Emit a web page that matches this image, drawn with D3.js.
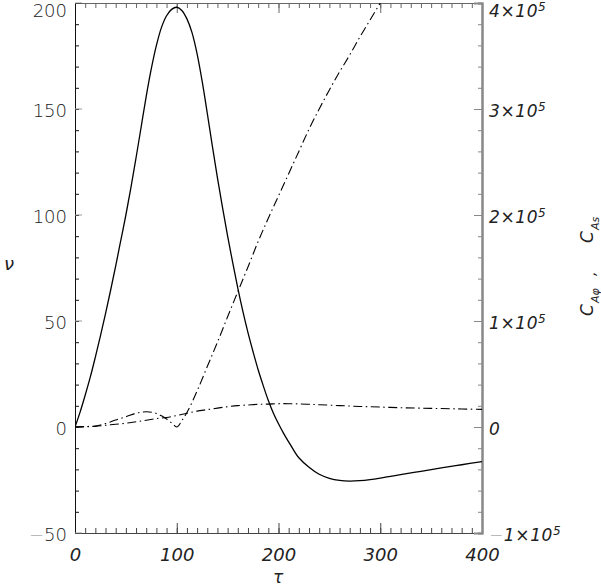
<!DOCTYPE html>
<html><head><meta charset="utf-8">
<script src="https://cdn.jsdelivr.net/npm/d3@7"></script>
<style>
body{margin:0;background:#fff;}
text{font-family:"DejaVu Sans",sans-serif;}
</style></head>
<body><svg id="c" width="601" height="588"></svg>
<script>
// tau values and series (v in left-axis units; C values in right-axis units)
const tauV = [0,5,10,15,20,25,30,35,40,45,50,55,60,65,70,75,80,85,90,95,100,105,110,115,120,125,130,135,140,145,150,155,160,165,170,175,180,185,190,195,200,205,210,215,220,230,240,250,260,270,280,290,300,310,320,340,360,380,400];
const vVals = [0,7,15,23.5,33,43,53.5,64.5,76,88,100,113,127,141.5,156,169,180,188.5,194,197,198,196.5,192.5,186,176,163,148,132.5,117.5,103.5,90,77.5,65.5,54.5,44.5,35.5,27,19.5,12.5,6.5,1.5,-3,-7,-11,-14.5,-19,-22.3,-24.2,-25.2,-25.5,-25.3,-24.8,-24.1,-23.3,-22.5,-20.9,-19.3,-17.8,-16.3];

const tauPhi = [0,10,20,30,40,50,60,70,80,85,90,95,100,105,110,120,130,140,150,160,170,180,190,200,210,220,230,240,250,260,270,280,290,300];
const cAphi = [0,400,1000,3200,6600,9600,13000,14400,12800,10600,7600,3800,0,6000,13600,34000,57000,80000,104000,127600,151000,175000,197000,218000,239000,260000,281000,300000,318000,335000,351000,368000,384000,400000];

const tauS = [0,10,20,30,40,50,60,70,80,90,100,110,120,130,140,150,160,170,180,190,200,210,220,230,240,260,280,300,320,340,360,380,400];
const cAs = [0,200,600,1600,2600,3600,5000,6400,8000,9000,10800,13000,15000,16400,17800,19200,20200,20800,21400,21600,22000,22000,21800,21400,21000,20200,19400,18800,18200,17800,17400,17000,16600];

const xTicks = [0,100,200,300,400];
const yLTicks = [-50,0,50,100,150,200];
const yRTicks = [-1e5,0,1e5,2e5,3e5,4e5];
const yRLabels = [["−","1","5"],["","0",null],["","1","5"],["","2","5"],["","3","5"],["","4","5"]];

const svg = d3.select("#c");
const x = d3.scaleLinear([0,400],[75,482]);
const yL = d3.scaleLinear([-50,200],[533,3]);
const yR = d3.scaleLinear([-1e5,4e5],[533,3]);

const fontSz = 17;
const labY = v => Math.max(v+2, 11);
function styleAxis(g, col, w){
  g.select(".domain").attr("stroke",col).attr("stroke-width",w);
  g.selectAll(".tick line").attr("stroke",col);
}

// minor ticks
const minorX = d3.range(0,401,10);
const minorYL = d3.range(-50,201,10);
const minorYR = d3.range(-1e5,4e5+1,2e4);

// bottom
svg.append("g").attr("transform","translate(0,533)")
  .call(d3.axisBottom(x).tickValues(minorX).tickSize(-5).tickFormat(""))
  .call(g=>styleAxis(g,"#444",1));
const gb = svg.append("g").attr("transform","translate(0,533)")
  .call(d3.axisBottom(x).tickValues(xTicks).tickSize(-10).tickPadding(15).tickFormat(d3.format("d")))
  .call(g=>styleAxis(g,"#444",1));
gb.selectAll("text").attr("font-size",fontSz+1).attr("font-style","italic").attr("fill","#222").attr("font-family","DejaVu Sans").attr("font-weight",200);

// top
svg.append("g").attr("transform","translate(0,3)")
  .call(d3.axisTop(x).tickValues(minorX).tickSize(-5).tickFormat(""))
  .call(g=>styleAxis(g,"#666",1));
svg.append("g").attr("transform","translate(0,3)")
  .call(d3.axisTop(x).tickValues(xTicks).tickSize(-10).tickFormat(""))
  .call(g=>styleAxis(g,"#666",1));

// left
svg.append("g").attr("transform","translate(75,0)")
  .call(d3.axisLeft(yL).tickValues(minorYL).tickSize(-4).tickFormat(""))
  .call(g=>styleAxis(g,"#111",1));
const gl = svg.append("g").attr("transform","translate(75,0)")
  .call(d3.axisLeft(yL).tickValues(yLTicks).tickSize(-7).tickPadding(8).tickFormat(d=>Math.abs(d)))
  .call(g=>styleAxis(g,"#111",1));
gl.selectAll(".tick line").attr("stroke","#999");
gl.selectAll(".tick").attr("transform",d=>`translate(0,${labY(yL(d))})`);
gl.selectAll(".tick line").attr("transform",d=>`translate(0,${yL(d)-labY(yL(d))})`);
gl.selectAll("text").attr("font-size",fontSz+1).attr("fill","#222").attr("font-family","DejaVu Sans").attr("font-weight",200).attr("dy","0.36em");
gl.selectAll(".tick text").filter(d=>d<0).each(function(d){
  const t=d3.select(this); const s=t.text(); t.text("");
  t.append("tspan").attr("fill","#aaa").text("−");
  t.append("tspan").text(s);
});

// right
svg.append("g").attr("transform","translate(482,0)")
  .call(d3.axisRight(yR).tickValues(minorYR).tickSize(-4).tickFormat(""))
  .call(g=>styleAxis(g,"#888",2));
svg.append("g").attr("transform","translate(482,0)")
  .call(d3.axisRight(yR).tickValues(yRTicks).tickSize(-8).tickFormat(""))
  .call(g=>styleAxis(g,"#888",2));
const rl = svg.append("g");
yRTicks.forEach((v,i)=>{
  const [m,d,e]=yRLabels[i];
  const t = rl.append("text").attr("x",489).attr("y",labY(yR(v))).attr("dy","0.36em")
    .attr("font-size",fontSz).attr("font-style","italic").attr("fill","#222").attr("font-weight",200)
    .attr("letter-spacing",0.6);
  if(m) t.append("tspan").attr("fill","#aaa").attr("font-style","normal").text(m);
  t.append("tspan").text(d);
  if(e){
    t.append("tspan").text("×10");
    t.append("tspan").attr("font-size",12).attr("dy","-0.55em").text(e);
  }
});

// lines
svg.append("clipPath").attr("id","cl").append("rect")
  .attr("x",75).attr("y",3).attr("width",407).attr("height",530);
const plot = svg.append("g").attr("clip-path","url(#cl)");

plot.append("path").datum(tauV.map((t,i)=>[t,vVals[i]]))
  .attr("fill","none").attr("stroke","#000").attr("stroke-width",1.3)
  .attr("d",d3.line().x(d=>x(d[0])).y(d=>yL(d[1])).curve(d3.curveCatmullRom));

plot.append("path").datum(tauS.map((t,i)=>[t,cAs[i]]))
  .attr("fill","none").attr("stroke","#000").attr("stroke-width",1.1)
  .attr("stroke-dasharray","9,3.5,1.5,3.5")
  .attr("d",d3.line().x(d=>x(d[0])).y(d=>yR(d[1])).curve(d3.curveCatmullRom));

plot.append("path").datum(tauPhi.map((t,i)=>[t,cAphi[i]]))
  .attr("fill","none").attr("stroke","#000").attr("stroke-width",1.1)
  .attr("stroke-dasharray","9,3.5,1.5,3.5")
  .attr("d",d3.line().x(d=>x(d[0])).y(d=>yR(d[1])).curve(d3.curveMonotoneX));

// titles
svg.append("text").attr("x",278).attr("y",583).attr("text-anchor","middle")
  .attr("font-size",fontSz).attr("font-style","italic").attr("fill","#222").attr("font-weight",200).text("τ");
svg.append("text").attr("x",9).attr("y",270).attr("text-anchor","middle")
  .attr("font-size",fontSz+1).attr("font-style","italic").attr("fill","#222").attr("font-weight",200).text("ν");

// right title, rotated; text starts at the bottom (y≈316) and reads upward
const rt = svg.append("g").attr("transform","translate(593,316) rotate(-90)")
  .attr("font-style","italic").attr("fill","#222").attr("font-weight",200);
rt.append("text").attr("x",0).attr("y",0).attr("font-size",17).text("C");
rt.append("text").attr("x",13).attr("y",6).attr("font-size",11).text("Aφ");
rt.append("text").attr("x",40).attr("y",2).attr("font-size",14).text(",");
rt.append("text").attr("x",73).attr("y",0).attr("font-size",17).text("C");
rt.append("text").attr("x",86).attr("y",6).attr("font-size",11).text("As");
</script></body></html>
